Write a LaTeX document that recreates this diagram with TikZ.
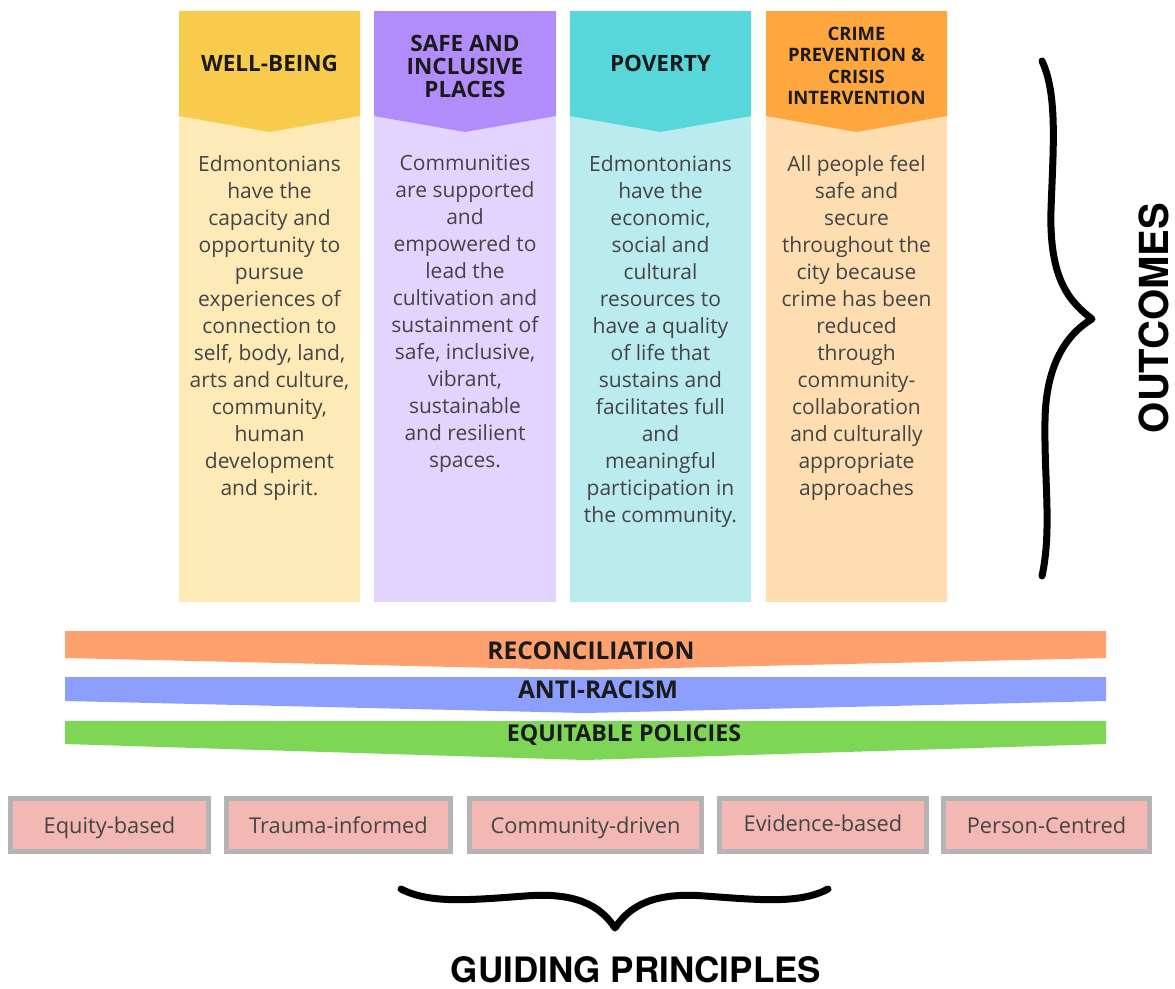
\documentclass[tikz,border=0pt]{standalone}
\usepackage{fontspec}
\setmainfont{Open Sans}
\newfontfamily\heros{TeX Gyre Heros}
\definecolor{yelH}{HTML}{F9CB4C}
\definecolor{yelB}{HTML}{FEEAB6}
\definecolor{purH}{HTML}{B38CFB}
\definecolor{purB}{HTML}{E2D4FE}
\definecolor{cyaH}{HTML}{58D7DB}
\definecolor{cyaB}{HTML}{BAEBEF}
\definecolor{oraH}{HTML}{FDA73E}
\definecolor{oraB}{HTML}{FEDDB1}
\definecolor{recC}{HTML}{FFA16F}
\definecolor{antC}{HTML}{8C9FFF}
\definecolor{equC}{HTML}{7ED657}
\definecolor{boxP}{HTML}{F3B8B3}
\definecolor{boxG}{HTML}{B5B3B3}
\definecolor{bodyT}{HTML}{444444}
\definecolor{darkT}{HTML}{1A1A1A}
\begin{document}
\begin{tikzpicture}[x=1pt,y=-1pt,
  coltitle/.style={font=\bfseries\fontsize{22.5}{23}\selectfont, align=center, text=darkT, inner sep=0},
  smalltitle/.style={font=\bfseries\fontsize{18.5}{21.5}\selectfont, align=center, text=darkT, inner sep=0},
  colbody/.style={font=\fontsize{21}{27}\selectfont, align=center, text=bodyT, anchor=north, inner sep=0},
  bartext/.style={font=\bfseries, text=darkT, inner sep=0},
  principle/.style={draw=boxG, line width=5pt, fill=boxP, minimum height=53pt, inner sep=0,
     text height=21pt, text depth=5pt,
     font=\fontsize{21.8}{23}\selectfont, text=bodyT},
  bracestroke/.style={line width=7pt, line cap=round, line join=round, black}
]
\useasboundingbox (0,0) rectangle (1175,988);
\fill[white] (0,0) rectangle (1175,988);

% columns
\fill[yelB] (179,116) rectangle (360,602);
\fill[yelH] (179,11) -- (360,11) -- (360,116) -- (269.5,132) -- (179,116) -- cycle;
\fill[purB] (374,116) rectangle (556,602);
\fill[purH] (374,11) -- (556,11) -- (556,116) -- (465,132) -- (374,116) -- cycle;
\fill[cyaB] (570,116) rectangle (751,602);
\fill[cyaH] (570,11) -- (751,11) -- (751,116) -- (660.5,132) -- (570,116) -- cycle;
\fill[oraB] (766,116) rectangle (947,602);
\fill[oraH] (766,11) -- (947,11) -- (947,116) -- (856.5,132) -- (766,116) -- cycle;

\node[coltitle] (t1) at (269.5,63) {WELL-BEING};
\node[coltitle] (t2) at (465,66) {SAFE AND\\INCLUSIVE\\PLACES};
\node[coltitle] (t3) at (660.5,63) {POVERTY};
\node[smalltitle] (t4) at (856.5,66) {CRIME\\PREVENTION \&\\CRISIS\\INTERVENTION};

\node[colbody] (b1) at (269.5,155) {Edmontonians\\have the\\capacity and\\opportunity to\\pursue\\experiences of\\connection to\\self, body, land,\\arts and culture,\\community,\\human\\development\\and spirit.};
\node[colbody] (b2) at (465,155) {Communities\\are supported\\and\\empowered to\\lead the\\cultivation and\\sustainment of\\safe, inclusive,\\vibrant,\\sustainable\\and resilient\\spaces.};
\node[colbody] (b3) at (660.5,155) {Edmontonians\\have the\\economic,\\social and\\cultural\\resources to\\have a quality\\of life that\\sustains and\\facilitates full\\and\\meaningful\\participation in\\the community.};
\node[colbody] (b4) at (856.5,155) {All people feel\\safe and\\secure\\throughout the\\city because\\crime has been\\reduced\\through\\community-\\collaboration\\and culturally\\appropriate\\approaches};

% bars
\fill[recC] (65,631) -- (1106,631) -- (1106,658) -- (585,670) -- (65,658) -- cycle;
\fill[antC] (65,677) -- (1106,677) -- (1106,701) -- (585,713) -- (65,701) -- cycle;
\fill[equC] (65,721) -- (1106,721) -- (1106,744) -- (585,760) -- (65,744) -- cycle;
\node[bartext, font=\bfseries\fontsize{24.5}{26}\selectfont] (rec) at (591,651) {RECONCILIATION};
\node[bartext, font=\bfseries\fontsize{24.5}{25}\selectfont] (anti) at (598,690) {ANTI-RACISM};
\node[bartext, font=\bfseries\fontsize{23.2}{24}\selectfont] (equ) at (624,735) {EQUITABLE POLICIES};

% principles
\node[principle, minimum width=198pt] (p1) at (109.5,825) {Equity-based};
\node[principle, minimum width=224pt] (p2) at (338.5,825) {Trauma-informed};
\node[principle, minimum width=232pt] (p3) at (585.5,825) {Community-driven};
\node[principle, minimum width=207pt] (p4) at (823,825) {\raisebox{2pt}{Evidence-based}};
\node[principle, minimum width=206pt] (p5) at (1046.5,825) {Person-Centred};

% right brace
\draw[bracestroke] (1042,61) .. controls (1058,95) and (1053,150) .. (1051,210)
  .. controls (1049,280) and (1070,302) .. (1092,319)
  .. controls (1070,332) and (1046,360) .. (1045,420)
  .. controls (1044,480) and (1052,530) .. (1042,576);
\node[font=\heros\bfseries\fontsize{40}{40}\selectfont, rotate=90, inner sep=0] (outc) at (1154,318) {OUTCOMES};

% bottom brace
\draw[bracestroke] (401,889) .. controls (430,904) and (470,900) .. (525,896)
  .. controls (575,892) and (600,905) .. (615,928)
  .. controls (630,905) and (655,892) .. (705,896)
  .. controls (760,900) and (800,904) .. (828,889);
\node[font=\heros\bfseries\fontsize{35}{35}\selectfont, inner sep=0] (guide) at (636,970) {GUIDING PRINCIPLES};
\end{tikzpicture}
\end{document}
